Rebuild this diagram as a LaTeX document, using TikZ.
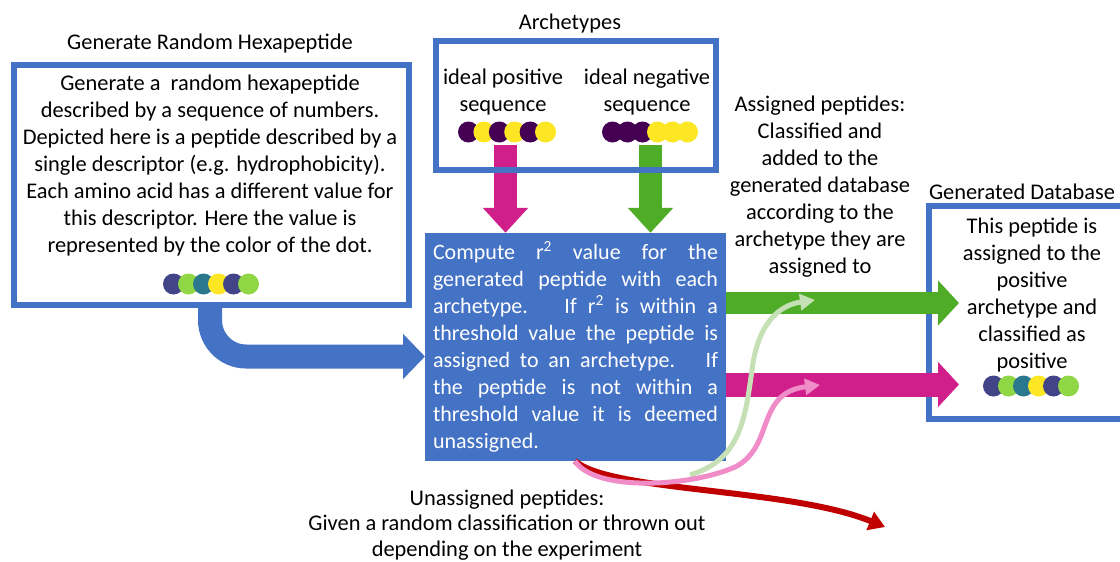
\documentclass[tikz,border=0pt]{standalone}
\usepackage{fontspec}
\setmainfont{Carlito}
\usetikzlibrary{arrows.meta,calc}
\definecolor{boxblue}{RGB}{68,114,196}
\definecolor{magarrow}{RGB}{208,30,138}
\definecolor{grnarrow}{RGB}{78,172,38}
\definecolor{lightgrn}{RGB}{197,224,180}
\definecolor{pinkc}{RGB}{240,140,200}
\definecolor{redc}{RGB}{192,0,0}
\definecolor{vnavy}{RGB}{65,68,135}
\definecolor{vlime}{RGB}{143,215,68}
\definecolor{vteal}{RGB}{42,120,142}
\definecolor{vyel}{RGB}{253,231,37}
\definecolor{vpurp}{RGB}{68,1,84}
\begin{document}
\begin{tikzpicture}[x=1pt,y=-1pt,
  txt/.style={font=\fontsize{22.4}{27}\selectfont, inner sep=0pt, align=center},
  frame/.style={draw=boxblue, line width=6pt, fill=white, inner sep=0pt},
  dotc/.style={fill=#1}]
\useasboundingbox[fill=white] (0,0) rectangle (1120,562);

% ---------- left box ----------
\node[txt] (t1) at (210,44) {Generate Random Hexapeptide};
\coordinate (bluestart) at (210,300);
\coordinate (blueturn) at (210,320);
\coordinate (bluetip) at (425,356.5);
\draw[boxblue, line width=24pt, -{Triangle[length=22pt,width=44pt]}]
  (bluestart) -- (blueturn) .. controls (210,340) and (226,356.5) .. (246,356.5) -- (bluetip);
\node[frame, minimum width=395pt, minimum height=240pt] (genbox) at (211,185) {};
\node[txt] (gentext) at (210,165.5) {Generate a \ random hexapeptide\\described by a sequence of numbers.\\Depicted here is a peptide described by a\\single descriptor (e.g. hydrophobicity).\\Each amino acid has a different value for\\this descriptor. Here the value is\\represented by the color of the dot.};
\foreach \c [count=\i from 0] in {vnavy,vlime,vteal,vyel,vnavy,vlime}
  \fill[dotc=\c] ({173.5+15*\i},284) circle (10.5pt);

% ---------- archetypes ----------
\node[txt] (t2) at (570,24) {Archetypes};
\coordinate (magS) at (505.5,145);
\coordinate (grnS) at (650.5,145);
\node[fill=boxblue, text=white, font=\fontsize{22}{27}\selectfont, inner sep=0pt,
      minimum width=301pt, minimum height=228pt, align=left] (comp) at (575.5,347)
{\makebox[285pt][s]{Compute r\textsuperscript{2} value for the}\\
\makebox[285pt][s]{generated peptide with each}\\
\makebox[285pt][s]{archetype. \ If r\textsuperscript{2} is within a}\\
\makebox[285pt][s]{threshold value the peptide is}\\
\makebox[285pt][s]{assigned to an archetype. \ If}\\
\makebox[285pt][s]{the peptide is not within a}\\
\makebox[285pt][s]{threshold value it is deemed}\\
\makebox[285pt][l]{unassigned.}};
\draw[magarrow, line width=23pt, -{Triangle[length=25pt,width=44pt]}] (magS) -- (magS |- comp.north);
\draw[grnarrow, line width=23pt, -{Triangle[length=25pt,width=44pt]}] (grnS) -- (grnS |- comp.north);
\draw[boxblue, line width=6pt] (436,41) rectangle (716,169.5);
\node[inner sep=0pt, minimum width=280pt, minimum height=128pt] (arch) at (576,105.5) {};
\node[txt] (pos) at (503,92.5) {ideal positive\\sequence};
\node[txt] (neg) at (647,92.5) {ideal negative\\sequence};
\foreach \c [count=\i from 0] in {vpurp,vyel,vpurp,vyel,vpurp,vyel}
  \fill[dotc=\c] ({468.5+15.4*\i},132) circle (10.5pt);
\foreach \c [count=\i from 0] in {vpurp,vpurp,vpurp,vyel,vyel,vyel}
  \fill[dotc=\c] ({612.5+15*\i},132) circle (10.5pt);

% ---------- generated database ----------
\node[txt] (t3) at (1022,192) {Generated Database};
\node[inner sep=0pt, minimum width=191pt, minimum height=213pt] (db) at (1024.5,312.5) {};
\draw[boxblue, line width=6pt] (db.north east) -- (db.north west) -- (db.south west) -- (db.south east);
\node[txt] (dbtext) at (1032,295) {This peptide is\\assigned to the\\positive\\archetype and\\classified as\\positive};
\foreach \c [count=\i from 0] in {vnavy,vlime,vteal,vyel,vnavy,vlime}
  \fill[dotc=\c] ({993.5+15*\i},386) circle (10.5pt);

% ---------- horizontal arrows ----------
\coordinate (gE) at (959,303);
\coordinate (mE) at (959,384.5);
\draw[grnarrow, line width=22pt, -{Triangle[length=21pt,width=44pt]}] (comp.east |- gE) -- (gE);
\draw[magarrow, line width=24pt, -{Triangle[length=21pt,width=44pt]}] (comp.east |- mE) -- (mE);

% ---------- labels ----------
\node[txt] (assigned) at (820,187) {Assigned peptides:\\Classified and\\added to the\\generated database\\according to the\\archetype they are\\assigned to};
\node[txt, font=\fontsize{22.4}{25.5}\selectfont] (unassigned) at (507,525) {Unassigned peptides:\\Given a random classification or thrown out\\depending on the experiment};

% ---------- curves ----------
\coordinate (cS) at (575,461);
\coordinate (redT) at (885,527);
\coordinate (gcS) at (690,475);
\coordinate (gcT) at (815,300);
\coordinate (pcT) at (820,385);
\draw[redc, line width=6pt, -{Triangle[length=16pt,width=19pt]}]
  (cS) .. controls (610,492) and (790,488) .. (redT);
\draw[lightgrn, line width=5pt, -{Triangle[length=15pt,width=16pt]}]
  (gcS) .. controls (740,460) and (745,420) .. (752,370) .. controls (758,322) and (780,305) .. (gcT);
\draw[pinkc, line width=5pt, -{Triangle[length=15pt,width=16pt]}]
  (cS) .. controls (595,492) and (690,487) .. (735,467) .. controls (775,447) and (755,393) .. (pcT);
\end{tikzpicture}
\end{document}
